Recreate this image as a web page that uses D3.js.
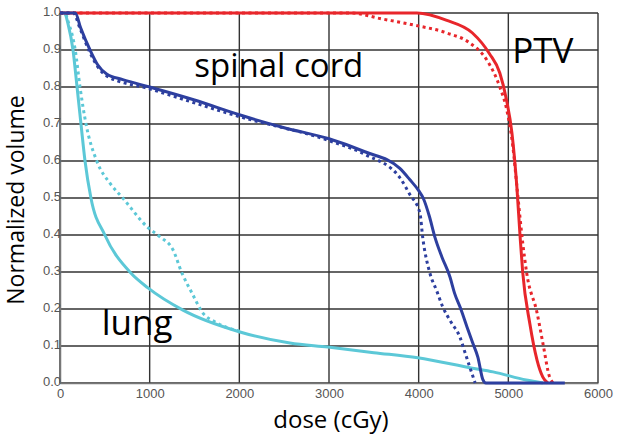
<!DOCTYPE html>
<html>
<head>
<meta charset="utf-8">
<script src="https://cdn.jsdelivr.net/npm/d3@7"></script>
<style>
  html, body { margin: 0; padding: 0; background: #fff; }
  svg { display: block; }
  .tick text { font-family: "Liberation Sans", Arial, sans-serif; font-size: 13px; fill: #555; }
</style>
</head>
<body>
<div id="chart"></div>
<script>
// dose (cGy), normalized volume pairs
var ptvSolid = [[0,1],[3980,1],[4314,0.98],[4600,0.946],[4790,0.89],[4905,0.838],[4980,0.765],[5040,0.676],[5095,0.53],[5130,0.4],[5160,0.3],[5240,0.16],[5320,0.062],[5385,0.016],[5440,0]];
var ptvDotted = [[0,1],[3250,1],[3570,0.985],[3935,0.968],[4314,0.946],[4570,0.919],[4760,0.873],[4905,0.80],[4983,0.738],[5050,0.64],[5100,0.52],[5160,0.38],[5205,0.297],[5320,0.19],[5385,0.108],[5460,0.016],[5500,0]];
var cordSolid = [[0,1],[170,1],[230,0.96],[335,0.90],[420,0.86],[520,0.835],[700,0.82],[1000,0.80],[1500,0.765],[2000,0.725],[2500,0.69],[3000,0.66],[3400,0.625],[3790,0.58],[3900,0.55],[4000,0.52],[4050,0.50],[4120,0.45],[4180,0.395],[4260,0.34],[4350,0.286],[4400,0.243],[4470,0.2],[4540,0.151],[4600,0.11],[4660,0.07],[4715,0.01],[4750,0],[5630,0]];
var cordDotted = [[0,1],[150,1],[220,0.96],[330,0.895],[420,0.855],[520,0.83],[1000,0.795],[2000,0.72],[3000,0.655],[3400,0.618],[3790,0.555],[3900,0.51],[4013,0.46],[4047,0.39],[4125,0.297],[4200,0.25],[4270,0.205],[4360,0.165],[4460,0.124],[4520,0.08],[4570,0.043],[4630,0]];
var lungSolid = [[0,1],[50,1],[90,0.97],[145,0.9],[190,0.8],[234,0.7],[279,0.6],[345,0.5],[500,0.4],[790,0.297],[981,0.257],[1371,0.197],[2007,0.138],[2564,0.108],[2988,0.097],[3500,0.082],[3990,0.068],[4600,0.04],[4830,0.03],[5200,0.008],[5385,0]];
var lungDotted = [[0,1],[50,1],[100,0.97],[170,0.9],[223,0.8],[290,0.7],[410,0.6],[557,0.54],[700,0.5],[981,0.42],[1115,0.395],[1260,0.36],[1360,0.297],[1472,0.243],[1594,0.189],[1730,0.165],[2007,0.14]];

var xTicks = [0, 1000, 2000, 3000, 4000, 5000, 6000];
var yTicks = [0, 0.1, 0.2, 0.3, 0.4, 0.5, 0.6, 0.7, 0.8, 0.9, 1.0];
var labels = [
  { text: "spinal cord", dose: 2440, vol: 0.827, size: 33 },
  { text: "PTV", dose: 5385, vol: 0.865, size: 35 },
  { text: "lung", dose: 860, vol: 0.13, size: 35 }
];

var chartWidth = 617, chartHeight = 436;
var margin = { top: 13, right: 19, bottom: 53, left: 60 },
    width = chartWidth - margin.left - margin.right,
    height = chartHeight - margin.top - margin.bottom;

var svg = d3.select("#chart").append("svg")
    .attr("width", chartWidth).attr("height", chartHeight);

var x = d3.scaleLinear().domain([0, 6000]).range([0, width]),
    y = d3.scaleLinear().domain([0, 1]).range([height, 0]);

var g = svg.append("g").attr("transform", "translate(" + margin.left + "," + margin.top + ")");

// grid
g.append("g").selectAll("line").data(yTicks).enter().append("line")
    .attr("x1", 0).attr("x2", width)
    .attr("y1", function (d) { return y(d); }).attr("y2", function (d) { return y(d); })
    .attr("stroke", "#333").attr("stroke-width", 1.4);
g.append("g").selectAll("line").data(xTicks).enter().append("line")
    .attr("y1", 0).attr("y2", height)
    .attr("x1", function (d) { return x(d); }).attr("x2", function (d) { return x(d); })
    .attr("stroke", "#333").attr("stroke-width", 1.4);

// axes (labels only)
var xAxis = g.append("g").attr("transform", "translate(0," + height + ")")
    .call(d3.axisBottom(x).tickValues(xTicks).tickSize(0).tickPadding(6).tickFormat(d3.format("d")));
xAxis.select(".domain").attr("stroke", "#777").attr("stroke-width", 1.5);

var yAxis = g.append("g")
    .call(d3.axisLeft(y).tickValues(yTicks).tickSize(0).tickPadding(-1).tickFormat(d3.format(".1f")));
yAxis.select(".domain").attr("stroke", "#777").attr("stroke-width", 1.5);
yAxis.selectAll(".tick text").attr("dy", "0.18em");

var line = d3.line()
    .curve(d3.curveMonotoneX)
    .x(function (d) { return x(d[0]); })
    .y(function (d) { return y(d[1]); });

var series = [
  { data: lungSolid, color: "#5cc8d7", dash: null },
  { data: lungDotted, color: "#5cc8d7", dash: "3,3.5" },
  { data: ptvDotted, color: "#e8262b", dash: "3,3.5" },
  { data: ptvSolid, color: "#e8262b", dash: null },
  { data: cordDotted, color: "#2d3f9f", dash: "3,3.5" },
  { data: cordSolid, color: "#2d3f9f", dash: null }
];

g.selectAll(".dvh").data(series).enter().append("path")
    .attr("class", "dvh")
    .attr("fill", "none")
    .attr("d", function (d) { return line(d.data); })
    .attr("stroke", function (d) { return d.color; })
    .attr("stroke-width", 3)
    .attr("stroke-dasharray", function (d) { return d.dash; });

// structure labels
g.selectAll(".lbl").data(labels).enter().append("text")
    .attr("class", "lbl")
    .attr("x", function (d) { return x(d.dose); })
    .attr("y", function (d) { return y(d.vol); })
    .attr("text-anchor", "middle")
    .style("font-family", "'Open Sans', sans-serif")
    .style("font-size", function (d) { return d.size + "px"; })
    .attr("fill", "#000")
    .text(function (d) { return d.text; });

// axis titles
svg.append("text")
    .attr("x", 331).attr("y", 428)
    .attr("text-anchor", "middle")
    .style("font-family", "'Open Sans', sans-serif").style("font-size", "24px")
    .text("dose (cGy)");

svg.append("text")
    .attr("transform", "translate(24,200) rotate(-90)")
    .attr("text-anchor", "middle")
    .style("font-family", "'Open Sans', sans-serif").style("font-size", "23px")
    .text("Normalized volume");
</script>
</body>
</html>
